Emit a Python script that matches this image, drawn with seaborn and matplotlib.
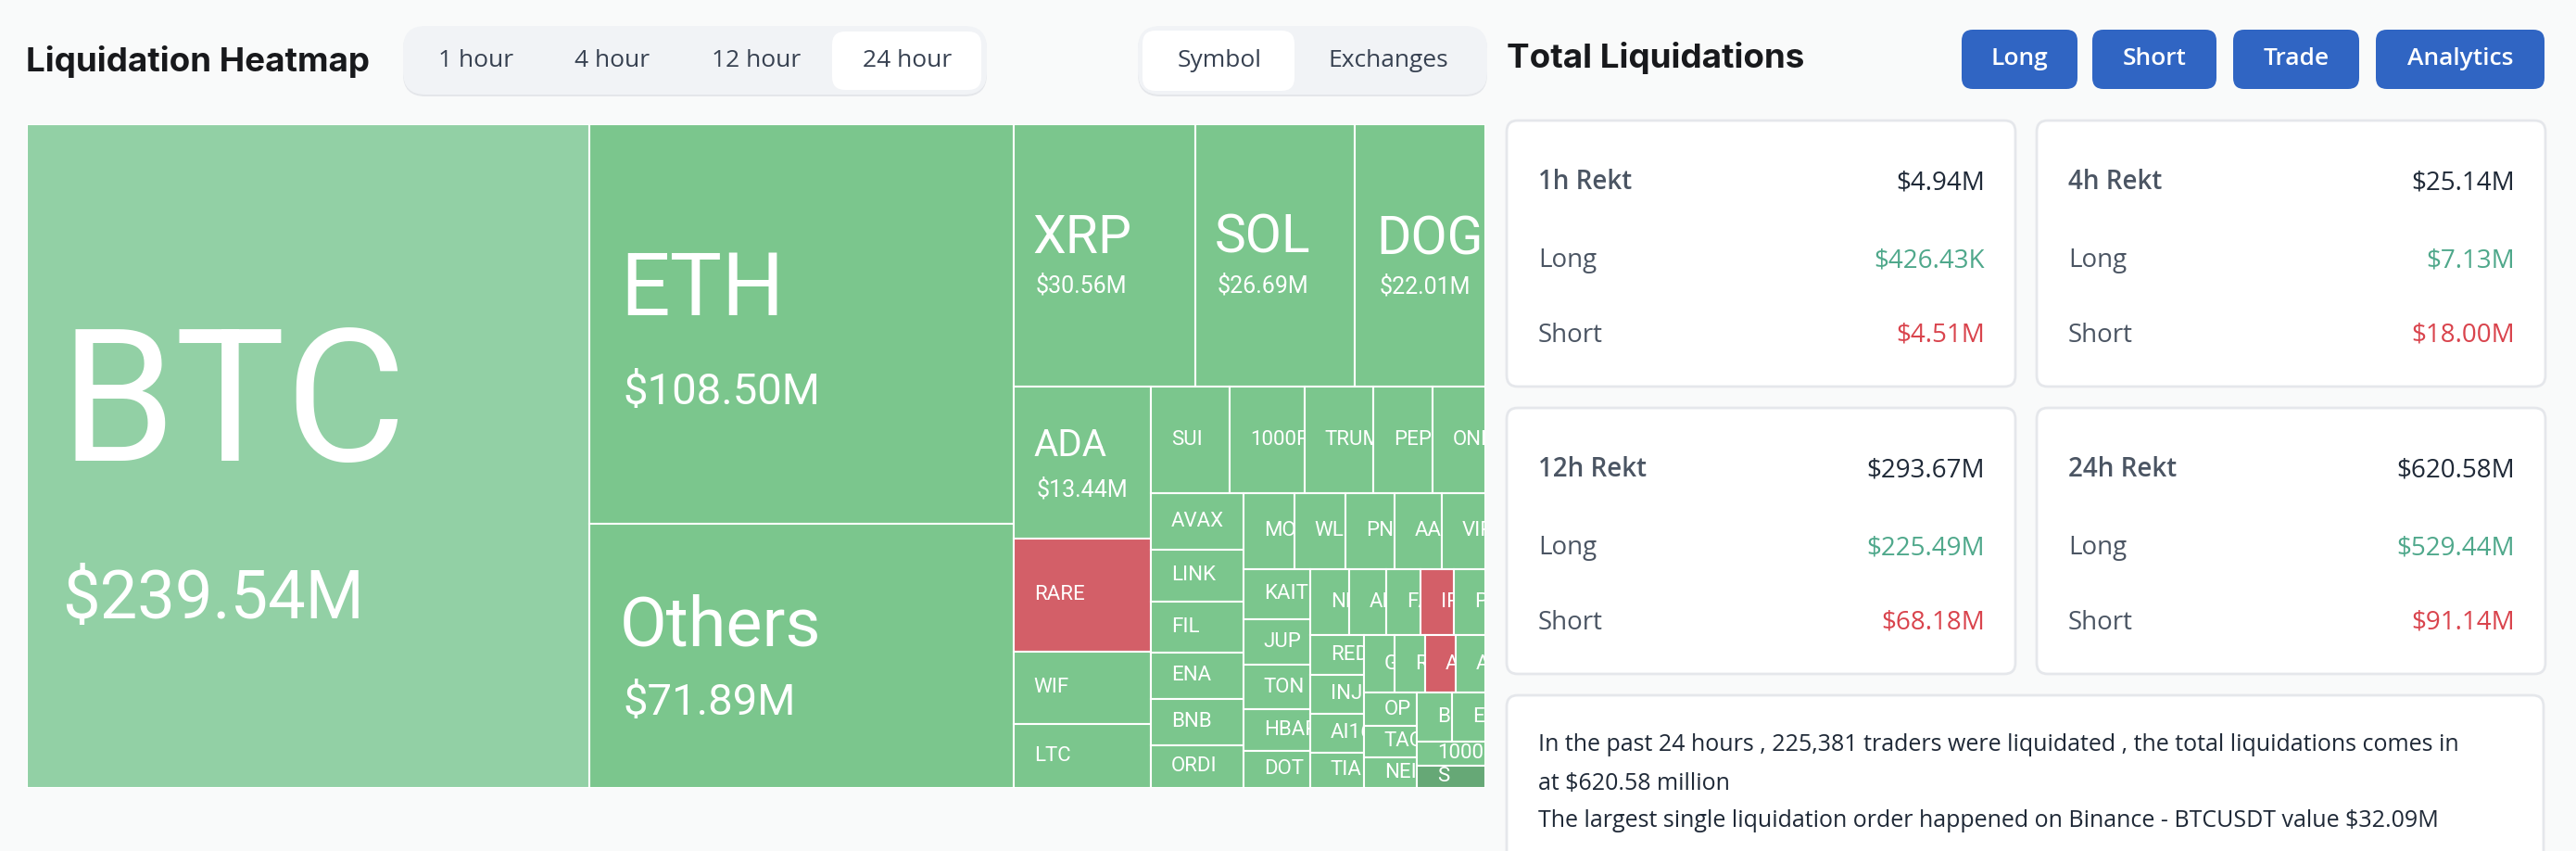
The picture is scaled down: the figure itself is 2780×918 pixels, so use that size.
import seaborn as sns
import matplotlib.pyplot as plt
from matplotlib.patches import FancyBboxPatch

sns.set_theme(style="white")
plt.rcParams['font.family'] = ['Open Sans', 'DejaVu Sans']

# Treemap data, $M, read from the labels or estimated from tile areas
tile_names = ["BTC", "ETH", "Others", "XRP", "SOL", "DOGE",
              "ADA", "RARE", "WIF", "LTC",
              "SUI", "1000PEPE", "TRUMP", "PEPE", "ONDO",
              "AVAX", "LINK", "FIL", "ENA", "BNB", "ORDI",
              "MOVE", "WLD", "PNUT", "AAVE", "VIRTUAL",
              "KAITO", "JUP", "TON", "HBAR", "DOT",
              "NEAR", "APT", "FARTCOIN", "IP", "POPCAT",
              "REDSTONE", "INJ", "AI16Z", "TIA",
              "GALA", "RENDER", "AUCTION", "ARB",
              "OP", "TAO", "NEIRO",
              "BCH", "ETC", "1000SHIB", "S"]
tile_values = [239.54, 108.50, 71.89, 30.56, 26.69, 22.01,
               13.44, 9.95, 6.38, 5.67,
               5.42, 5.11, 4.72, 4.08, 3.64,
               3.34, 3.07, 3.01, 2.74, 2.74, 2.54,
               2.46, 2.48, 2.40, 2.27, 2.12,
               2.14, 1.96, 1.91, 1.78, 1.59,
               1.65, 1.58, 1.44, 1.42, 1.34,
               1.37, 1.33, 1.35, 1.22,
               1.14, 1.14, 1.14, 1.10,
               1.11, 1.08, 1.04,
               1.10, 1.04, 1.06, 0.98]
# how the tiles are cut off the remaining area, one strip at a time
strip_sizes = [1, 2, 3, 4, 5, 6, 5, 5, 5, 4, 4, 3, 2, 1, 1]
strip_sides = ["col", "col", "row", "col", "row", "col", "row", "col",
               "row", "col", "row", "col", "row", "row", "row"]
red_tiles = ["RARE", "IP", "AUCTION"]

tile_labels = {"BTC": "$239.54M", "ETH": "$108.50M", "Others": "$71.89M",
               "XRP": "$30.56M", "SOL": "$26.69M", "DOGE": "$22.01M",
               "ADA": "$13.44M"}

range_tabs = ["1 hour", "4 hour", "12 hour", "24 hour"]
mode_tabs = ["Symbol", "Exchanges"]
action_buttons = ["Long", "Short", "Trade", "Analytics"]

card_titles = ["1h Rekt", "4h Rekt", "12h Rekt", "24h Rekt"]
card_totals = ["$4.94M", "$25.14M", "$293.67M", "$620.58M"]
card_longs = ["$426.43K", "$7.13M", "$225.49M", "$529.44M"]
card_shorts = ["$4.51M", "$18.00M", "$68.18M", "$91.14M"]

summary_lines = ["In the past 24 hours , 225,381 traders were liquidated , the total liquidations comes in",
                 "at $620.58 million",
                 "The largest single liquidation order happened on Binance - BTCUSDT value $32.09M"]

BG = "#f9fafa"
GREEN = "#7bc68d"
RED = "#d35f68"
DIN = "Roboto"


def layout(values, sizes, sides):
    """Cut the unit square into strips, the strip width follows the values."""
    x0, y0, x1, y1 = 0.0, 0.0, 1.0, 1.0
    left = sum(values)
    rects = []
    i = 0
    for size, side in zip(sizes, sides):
        group = values[i:i + size]
        share = sum(group) / left
        pos = 0
        for v in group:
            part = v / sum(group)
            if side == "col":
                w = (x1 - x0) * share
                h = (y1 - y0) * part
                rects.append((x0, y0 + pos * (y1 - y0), w, h))
            else:
                w = (x1 - x0) * part
                h = (y1 - y0) * share
                rects.append((x0 + pos * (x1 - x0), y0, w, h))
            pos += part
        if side == "col":
            x0 += (x1 - x0) * share
        else:
            y0 += (y1 - y0) * share
        left -= sum(group)
        i += size
    return rects


def round_box(ax, x, y, w, h, r, color, edge="none", lw=0, z=1):
    ax.add_patch(FancyBboxPatch((x + r, y + r), w - 2 * r, h - 2 * r,
                                boxstyle=f"round,pad={r},rounding_size={r}",
                                facecolor=color, edgecolor=edge, linewidth=lw, zorder=z))


fig = plt.figure(figsize=(27.8, 9.18), dpi=100, facecolor=BG)

# page furniture, drawn in pixel coordinates
ui = fig.add_axes([0, 0, 1, 1])
ui.set_xlim(0, 2780)
ui.set_ylim(918, 0)
ui.axis("off")

ui.text(28, 66, "Liquidation Heatmap", family="Inter", fontsize=26.5, fontweight="bold",
        color="#18191c", va="center", ha="left")
ui.text(1626, 63, "Total Liquidations", family="Inter", fontsize=26.5, fontweight="bold",
        color="#18191c", va="center", ha="left")

# time range tabs
round_box(ui, 435, 30, 630, 74, 24, "#e4e6ea")
round_box(ui, 435, 28, 630, 74, 24, "#f1f3f6", z=2)
round_box(ui, 898, 34, 161, 63, 14, "white", z=3)
for label, cx in zip(range_tabs, [514, 661, 816.5, 979]):
    ui.text(cx, 66, label, fontsize=19, color="#374151", ha="center", va="center", zorder=4)

# symbol / exchanges tabs
round_box(ui, 1228, 30, 377, 74, 24, "#e4e6ea")
round_box(ui, 1228, 28, 377, 74, 24, "#f1f3f6", z=2)
round_box(ui, 1233, 33, 164, 65, 14, "white", z=3)
for label, cx in zip(mode_tabs, [1316, 1498]):
    ui.text(cx, 66, label, fontsize=19, color="#374151", ha="center", va="center", zorder=4)

# buttons
for label, (x0, x1) in zip(action_buttons, [(2117, 2242), (2258, 2392), (2410, 2546), (2564, 2746)]):
    round_box(ui, x0, 32, x1 - x0, 64, 12, "#3065c3")
    ui.text((x0 + x1) / 2, 64, label, fontsize=19, fontweight="semibold", color="white",
            ha="center", va="center", zorder=4)

# stat cards
card_x = [1626, 2198, 1626, 2198]
card_y = [130, 130, 440, 440]
for i in range(4):
    x, y = card_x[i], card_y[i]
    w, h = 549, 287
    round_box(ui, x, y, w, h, 12, "white", edge="#e5e7eb", lw=2)
    rows = [(card_titles[i], card_totals[i], "#1f2937", 67),
            ("Long", card_longs[i], "#4fa88b", 151),
            ("Short", card_shorts[i], "#d9444d", 232)]
    for k, (name, val, col, dy) in enumerate(rows):
        ui.text(x + 34, y + dy, name, fontsize=20, color="#4b5563",
                fontweight="semibold" if k == 0 else "normal", ha="left", va="center", zorder=4)
        ui.text(x + w - 33, y + dy, val, fontsize=20, color=col,
                fontweight="medium", ha="right", va="center", zorder=4)

# summary card, runs off the bottom of the page
round_box(ui, 1626, 750, 1119, 230, 12, "white", edge="#e5e7eb", lw=2)
for line, y in zip(summary_lines, [804, 845, 886]):
    ui.text(1660, y, line, fontsize=18, color="#1f2937", ha="left", va="center", zorder=4)

# treemap
ax = fig.add_axes([28.8 / 2780, 1 - 850 / 918, (1603 - 28.8) / 2780, (850 - 134) / 918], zorder=2)
ax.set_xlim(0, 1)
ax.set_ylim(1, 0)
ax.axis("off")

rects = layout(tile_values, strip_sizes, strip_sides)
tile_colors = []
for name in tile_names:
    if name == "BTC":
        tile_colors.append("#92d0a5")
    elif name == "S":
        tile_colors.append("#66a876")
    elif name in red_tiles:
        tile_colors.append(RED)
    else:
        tile_colors.append(GREEN)

bars = ax.bar([r[0] for r in rects], [r[3] for r in rects], width=[r[2] for r in rects],
              bottom=[r[1] for r in rects], align="edge", color=tile_colors,
              edgecolor="white", linewidth=1.5)

# name size, value size, padding, name and value offset from the tile centre (px)
big_tiles = {"BTC": (144, 52, 36, -50, 156),
             "ETH": (68, 34, 33, -35, 74),
             "Others": (53, 34, 33, -31, 51),
             "XRP": (41, 18, 21, -18, 33),
             "SOL": (41, 18, 21, -18, 33),
             "DOGE": (41, 18, 24, -16, 34),
             "ADA": (29, 18, 22, -18, 30)}

px = 72 / 100
for name, rect, bar in zip(tile_names, rects, bars):
    xc = rect[0]
    yc = rect[1] + rect[3] / 2
    if name in big_tiles:
        name_size, val_size, pad, dy_name, dy_val = big_tiles[name]
        t = ax.annotate(name, (xc, yc), xytext=(pad * px, -dy_name * px), textcoords="offset points",
                        family=DIN, fontsize=name_size, color="white", va="center", ha="left")
        t.set_clip_path(bar)
        t = ax.annotate(tile_labels[name], (xc, yc), xytext=(pad * px + 2, -dy_val * px),
                        textcoords="offset points", family=DIN, fontsize=val_size, color="white",
                        va="center", ha="left")
        t.set_clip_path(bar)
    else:
        t = ax.annotate(name, (xc, yc), xytext=(22 * px, 0), textcoords="offset points",
                        family=DIN, fontsize=16, color="white", va="center", ha="left")
        t.set_clip_path(bar)

fig.savefig("out.png", dpi=100)
